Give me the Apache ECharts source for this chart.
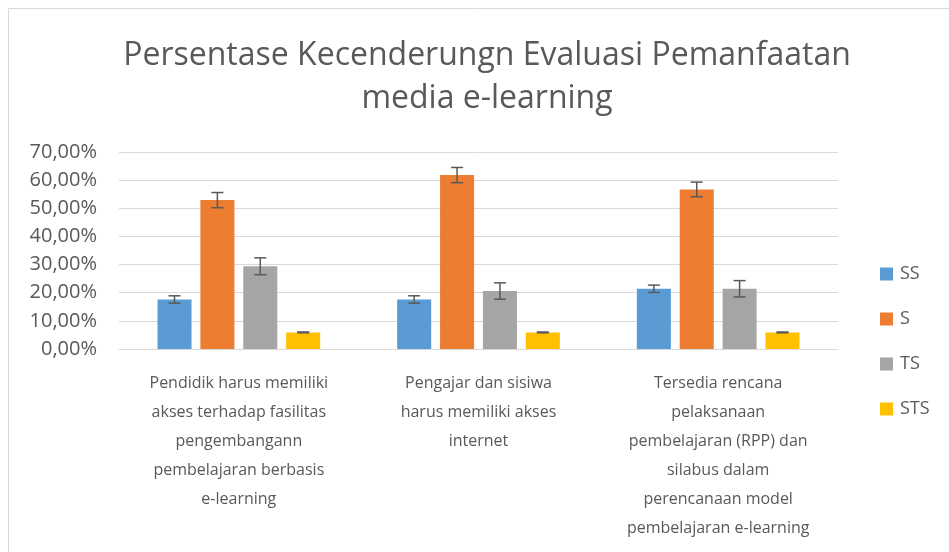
<!DOCTYPE html>
<html>
<head>
<meta charset="utf-8">
<title>Persentase Kecenderungn Evaluasi Pemanfaatan media e-learning</title>
<script src="https://cdn.jsdelivr.net/npm/echarts@6/dist/echarts.min.js"></script>
<style>
    html, body { margin: 0; padding: 0; background: #fff; }
    #chart { width: 949px; height: 552px; }
</style>
</head>
<body>
<div id="chart"></div>
<script>
// kategori (sumbu x)
var categories = [
    'Pendidik harus memiliki\nakses terhadap fasilitas\npengembangann\npembelajaran berbasis\ne-learning',
    'Pengajar dan sisiwa\nharus memiliki akses\ninternet',
    'Tersedia rencana\npelaksanaan\npembelajaran (RPP) dan\nsilabus dalam\nperencanaan model\npembelajaran e-learning'
];
var seriesNames = ['SS', 'S', 'TS', 'STS'];
// nilai persen per seri
var ssData = [17.6, 17.6, 21.4];
var sData = [52.9, 61.8, 56.7];
var tsData = [29.4, 20.6, 21.4];
var stsData = [5.9, 5.9, 5.9];
// error bar (+/-)
var ssErr = [1.3, 1.3, 1.3];
var sErr = [2.7, 2.7, 2.6];
var tsErr = [3.0, 2.9, 2.9];
var stsErr = [0.15, 0.15, 0.15];
var yTicks = [0, 10, 20, 30, 40, 50, 60, 70];

var colors = ['#5B9BD5', '#ED7D31', '#A5A5A5', '#FFC000'];
var allData = [ssData, sData, tsData, stsData];
var allErr = [ssErr, sErr, tsErr, stsErr];

var barFrac = 0.142;   // lebar bar relatif terhadap lebar kategori
var gapFrac = 0.26;    // barGap

var myChart = echarts.init(document.getElementById('chart'));

var series = [];
seriesNames.forEach(function (name, i) {
    series.push({
        name: name,
        type: 'bar',
        barWidth: (barFrac * 100) + '%',
        barGap: (gapFrac * 100) + '%',
        itemStyle: { color: colors[i] },
        data: allData[i]
    });
});
seriesNames.forEach(function (name, i) {
    var errRows = allData[i].map(function (v, k) {
        return [k, v - allErr[i][k], v + allErr[i][k]];
    });
    series.push({
        type: 'custom',
        name: name + '-err',
        z: 10,
        silent: true,
        renderItem: function (params, api) {
            var cat = api.value(0);
            var lo = api.coord([cat, api.value(1)]);
            var hi = api.coord([cat, api.value(2)]);
            var band = api.size([1, 0])[0];
            var bw = band * barFrac;
            var off = (i - 1.5) * bw * (1 + gapFrac);
            var x = lo[0] + off;
            var cap = 6;
            var st = { stroke: '#595959', lineWidth: 1.5 };
            return {
                type: 'group',
                children: [
                    { type: 'line', shape: { x1: x, y1: hi[1], x2: x, y2: lo[1] }, style: st },
                    { type: 'line', shape: { x1: x - cap, y1: hi[1], x2: x + cap, y2: hi[1] }, style: st },
                    { type: 'line', shape: { x1: x - cap, y1: lo[1], x2: x + cap, y2: lo[1] }, style: st }
                ]
            };
        },
        encode: { x: 0, y: [1, 2] },
        data: errRows
    });
});

var option = {
    backgroundColor: '#fff',
    animation: false,
    textStyle: { fontFamily: '"Open Sans", sans-serif' },
    title: {
        text: 'Persentase Kecenderungn Evaluasi Pemanfaatan\nmedia e-learning',
        left: 482,
        top: 29,
        textAlign: 'center',
        textStyle: {
            color: '#595959',
            fontSize: 32,
            fontWeight: 'normal',
            lineHeight: 43,
            fontFamily: '"Open Sans", sans-serif'
        }
    },
    graphic: [{
        type: 'rect',
        shape: { x: 8.5, y: 8.5, width: 980, height: 600 },
        style: { fill: 'none', stroke: '#D9D9D9', lineWidth: 1 },
        silent: true
    }],
    legend: {
        orient: 'vertical',
        left: 880,
        top: 265,
        padding: 0,
        itemWidth: 13,
        itemHeight: 13,
        itemGap: 27,
        icon: 'rect',
        data: seriesNames,
        textStyle: { color: '#595959', fontSize: 18, padding: [0, 0, 0, 2] }
    },
    grid: {
        left: 119,
        right: 111,
        top: 152,
        bottom: 203,
        containLabel: false
    },
    xAxis: {
        type: 'category',
        data: categories,
        axisTick: { show: false },
        axisLine: { lineStyle: { color: '#D9D9D9' } },
        axisLabel: {
            color: '#595959',
            fontSize: 16,
            lineHeight: 29,
            margin: 20,
            interval: 0
        }
    },
    yAxis: {
        type: 'value',
        min: yTicks[0],
        max: yTicks[yTicks.length - 1],
        interval: yTicks[1] - yTicks[0],
        axisLine: { show: false },
        axisTick: { show: false },
        splitLine: { lineStyle: { color: '#D9D9D9' } },
        axisLabel: {
            color: '#595959',
            fontSize: 20,
            margin: 22,
            formatter: function (v) { return v.toFixed(2).replace('.', ',') + '%'; }
        }
    },
    series: series
};

myChart.setOption(option);
window.addEventListener('resize', function () {
    myChart.resize();
});
</script>
</body>
</html>
